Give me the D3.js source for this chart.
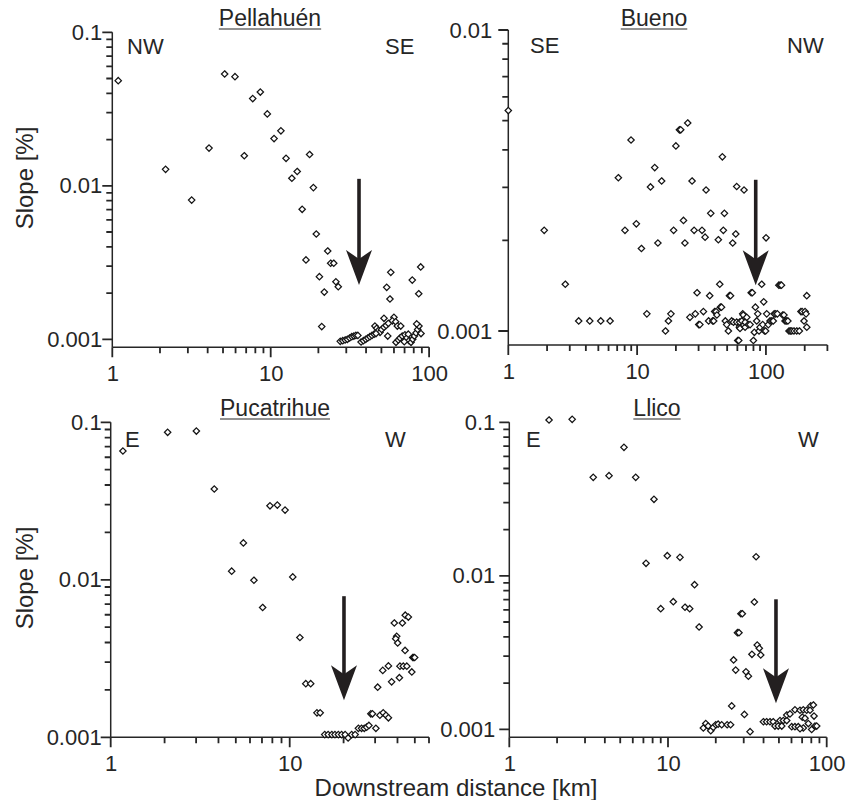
<!DOCTYPE html>
<html lang="en">
<head>
<meta charset="UTF-8">
<script src="https://cdn.jsdelivr.net/npm/d3@7"></script>
<title>Slope vs downstream distance</title>
<style>
  body { margin: 0; background: #fff; }
  svg { display: block; font-family: "Liberation Sans", Arial, sans-serif; }
</style>
</head>
<body>
<svg id="chart" width="846" height="800"></svg>
<script>
// ---- data (distance in km, slope in %) ----
const pellahuenDist = [1.09, 2.17, 3.17, 4.08, 5.12, 5.95, 6.81, 7.70, 8.60, 9.52, 10.5, 11.6, 12.5, 13.6, 14.7, 15.8, 16.7, 17.6, 18.6, 19.4,
  20.3, 21.0, 21.8, 22.9, 23.9, 25.0, 25.8, 26.7,
  27.5, 28.5, 29.5, 30.5, 31.5, 32.5, 33.5, 34.5, 35.5,
  37.2, 38.5, 39.8, 41.0, 42.3, 43.6, 45.0,
  45.5, 46.7, 47.8, 49.0, 46.2, 50.2, 51.9, 53.5, 55.3, 51.9, 60.0, 58.6, 61.5, 63.0, 66.2, 54.8,
  61.8, 63.9, 65.5, 67.7, 70.4, 72.2, 74.7, 76.9, 78.8, 80.7, 82.7, 84.7, 86.3, 83.5, 88.9, 69.7, 73.9,
  54.0, 57.3, 56.6, 78.3, 88.5, 86.0];
const pellahuenSlope = [0.0484, 0.0128, 0.00807, 0.0176, 0.0535, 0.0514, 0.0157, 0.0370, 0.0408, 0.0294, 0.0203, 0.0228, 0.0151, 0.0112, 0.0124, 0.00703, 0.00329, 0.0160, 0.00973, 0.00485,
  0.00256, 0.00121, 0.00203, 0.00376, 0.00313, 0.00313, 0.00237, 0.00220,
  0.00097, 0.00098, 0.00099, 0.00100, 0.00102, 0.00104, 0.00105, 0.00106, 0.00106,
  0.00096, 0.00098, 0.00100, 0.00102, 0.00104, 0.00106, 0.00108,
  0.00122, 0.00118, 0.00114, 0.00111, 0.00109, 0.00116, 0.00120, 0.00123, 0.00127, 0.00137, 0.00139, 0.00132, 0.00130, 0.00122, 0.00122, 0.00105,
  0.000956, 0.00099, 0.00102, 0.00105, 0.00107, 0.00102, 0.00098, 0.000956, 0.00100, 0.00105, 0.00110, 0.00116, 0.00122, 0.00126, 0.00109, 0.000965, 0.00108,
  0.00218, 0.00273, 0.00183, 0.00243, 0.00296, 0.00198];

const buenoDist = [1.0, 1.90, 2.77, 3.52, 4.29, 5.22, 6.17, 7.15, 8.05, 8.97, 9.86, 10.8, 11.9, 12.7, 13.7, 14.5, 15.5, 16.6, 17.5, 18.3,
  19.2, 20.0, 21.3, 21.8, 22.9, 23.5, 24.7, 25.7, 26.7, 27.7, 28.3, 29.2, 30.1, 30.7, 31.9, 32.7, 33.7, 34.3, 35.9, 36.6,
  37.3, 38.6, 39.3, 40.0, 41.0, 41.6, 42.7, 43.8, 44.3, 45.2, 45.9, 46.7, 47.6, 48.4, 49.6, 51.1, 52.1, 53.1, 54.2, 55.2,
  56.0, 58.3, 59.3, 59.3, 60.4, 61.5, 62.2, 62.5, 62.9, 64.9, 66.1, 66.7, 67.6, 68.9, 69.0, 71.0, 73.1, 75.3, 76.8, 78.4,
  79.9, 81.3, 82.8, 84.8, 86.4, 88.4, 90.0, 92.7, 94.4, 96.1, 97.5, 99.4, 100.2, 101.4, 104.4, 107.6, 111, 114, 116, 119,
  122.7, 126, 129, 132, 135, 138, 140.7, 144, 148, 151, 155, 158.6, 165, 173.4, 181.7, 187, 191, 197.6, 201.2, 207.5, 207.5, 204.8];
const buenoSlope = [0.00540, 0.00216, 0.00143, 0.00108, 0.00108, 0.00108, 0.00108, 0.00323, 0.00216, 0.00431, 0.00227, 0.00188, 0.00114, 0.00301, 0.00349, 0.00196, 0.00315, 0.00100, 0.00108, 0.00114,
  0.00216, 0.00412, 0.00466, 0.00466, 0.00233, 0.00196, 0.00491, 0.00111, 0.00315, 0.00216, 0.00114, 0.00134, 0.00105, 0.00105, 0.00216, 0.00116, 0.00205, 0.00294, 0.00108, 0.00131,
  0.00246, 0.00108, 0.00108, 0.00116, 0.00116, 0.00113, 0.00201, 0.00143, 0.00120, 0.00120, 0.00379, 0.00216, 0.00246, 0.00108, 0.00105, 0.00100, 0.00131, 0.00131, 0.00108, 0.00196,
  0.00107, 0.00210, 0.00302, 0.00107, 0.00093, 0.00093, 0.00103, 0.00107, 0.00102, 0.00108, 0.00114, 0.00113, 0.00294, 0.00103, 0.00107, 0.00111, 0.00105, 0.00105, 0.00134, 0.00134,
  0.00093, 0.00099, 0.00120, 0.00108, 0.00114, 0.00100, 0.00103, 0.00143, 0.00105, 0.00125, 0.00100, 0.00100, 0.00204, 0.00114, 0.00105, 0.00108, 0.00108, 0.00108, 0.00114, 0.00114,
  0.00114, 0.00142, 0.00142, 0.00142, 0.00113, 0.00113, 0.00108, 0.00108, 0.00108, 0.00100, 0.00100, 0.00100, 0.00100, 0.00100, 0.00100, 0.00116, 0.00116, 0.00108, 0.00116, 0.00131, 0.00103, 0.00114];

const pucatrihueDist = [1.17, 2.08, 3.01, 3.79, 4.74, 5.51, 6.31, 7.06, 7.76, 8.53, 9.42, 10.4, 11.4, 12.3, 13.1, 14.2, 14.8,
  15.7, 16.4, 17.2, 17.9, 18.7, 19.5, 20.4, 21.2, 22.2, 23.2, 24.2, 25.2, 26.1, 26.9, 27.7, 30.3,
  28.4, 29.0, 31.9, 33.3, 34.5, 35.6, 31.0, 33.1, 35.6, 37.1, 38.4, 39.6, 39.1, 40.1, 42.6, 44.2, 46.0, 44.1,
  41.3, 43.1, 45.1, 41.0, 48.1, 48.7, 49.3, 49.9];
const pucatrihueSlope = [0.0657, 0.0864, 0.0880, 0.0377, 0.01135, 0.01715, 0.00994, 0.00667, 0.0295, 0.0298, 0.0277, 0.01043, 0.00430, 0.00219, 0.00219, 0.00143, 0.00143,
  0.00104, 0.00104, 0.00104, 0.00104, 0.00104, 0.00104, 0.00104, 0.00099, 0.00104, 0.00104, 0.00114, 0.00114, 0.00114, 0.00116, 0.00119, 0.00114,
  0.00141, 0.00141, 0.00138, 0.00143, 0.00138, 0.00133, 0.00208, 0.00266, 0.00284, 0.00225, 0.00532, 0.00438, 0.00423, 0.00397, 0.00532, 0.00596, 0.00580, 0.00356,
  0.00283, 0.00283, 0.00283, 0.00239, 0.00260, 0.00321, 0.00321, 0.00321];

const llicoDist = [1.78, 2.49, 3.38, 4.25, 5.28, 6.26, 8.16, 7.27, 9.90, 11.9, 9.0, 10.8, 12.8, 13.7, 14.7, 15.7,
  35.9, 35.0, 28.8, 29.4, 27.4, 28.0, 25.9, 26.7, 31.0, 32.1, 33.8, 36.5, 37.6, 38.4, 25.2, 30.3, 32.9,
  16.7, 17.3, 17.9, 18.6, 19.3, 20.0, 20.7, 21.8, 23.6, 24.8,
  39.9, 41.8, 43.9, 46.0, 47.2, 49.5, 52.1, 50.8, 53.3, 56.0, 56.0, 58.7, 60.2, 63.1, 66.2, 63.1, 67.9, 71.2, 74.8,
  70.2, 73.0, 71.2, 67.9, 76.6, 79.3, 82.4, 78.5, 83.2, 80.4, 84.4, 86.5];
const llicoSlope = [0.1035, 0.1045, 0.0438, 0.0449, 0.0687, 0.0438, 0.0315, 0.01206, 0.01352, 0.01319, 0.00611, 0.00678, 0.00624, 0.00611, 0.00875, 0.00464,
  0.0133, 0.00675, 0.00566, 0.00566, 0.00426, 0.00426, 0.00283, 0.00243, 0.00237, 0.00222, 0.00308, 0.00354, 0.00337, 0.00305, 0.00142, 0.00125, 0.000965,
  0.00102, 0.00109, 0.00105, 0.00098, 0.00103, 0.00107, 0.00108, 0.00107, 0.00107, 0.00107,
  0.00112, 0.00112, 0.00112, 0.00112, 0.00105, 0.00105, 0.00105, 0.00114, 0.00114, 0.00114, 0.00124, 0.00126, 0.00104, 0.00104, 0.00104, 0.00134, 0.00133, 0.00134, 0.00133,
  0.00120, 0.00118, 0.00102, 0.00101, 0.00109, 0.00142, 0.00144, 0.00133, 0.00122, 0.000997, 0.00105, 0.00105];

const riverNames = ["Pellahuén", "Bueno", "Pucatrihue", "Llico"];
const directionLabels = [["NW", "SE"], ["SE", "NW"], ["E", "W"], ["E", "W"]];
const distMax = [100, 300, 60, 100];
const slopeMax = [0.1, 0.01, 0.1, 0.1];
const slopeMin = [0.001, 0.001, 0.001, 0.001];
// arrows: distance, slope at top of shaft, slope at tip
const arrowDist = [36.1, 83.3, 20.1, 47.9];
const arrowTop = [0.0111, 0.00318, 0.00787, 0.00703];
const arrowTip = [0.00226, 0.00142, 0.00172, 0.00148];

const seriesDist = [pellahuenDist, buenoDist, pucatrihueDist, llicoDist];
const seriesSlope = [pellahuenSlope, buenoSlope, pucatrihueSlope, llicoSlope];

// ---- layout of the four panels (pixels) ----
const layout = [
  { x0: 112.3, x1: 429.1, yTop: 32.3, yLow: 339.3, axisY: 347.3, pad: 10, titleX: 270, titleY: 26, dirX: [127, 385], dirY: 54 },
  { x0: 508.3, x1: 827.4, yTop: 30, yLow: 331, axisY: 345, pad: 16, titleX: 654, titleY: 26, dirX: [530, 787], dirY: 53 },
  { x0: 110.7, x1: 429, yTop: 422.3, yLow: 737.3, axisY: 737.3, pad: 9, titleX: 275, titleY: 416, dirX: [125, 385], dirY: 447 },
  { x0: 509.3, x1: 826.7, yTop: 422.3, yLow: 729.3, axisY: 737.3, pad: 14, titleX: 657, titleY: 416, dirX: [526, 798], dirY: 447 }
];

const ink = "#262626";
const svg = d3.select("#chart");
svg.append("rect").attr("width", 846).attr("height", 800).attr("fill", "#fff");

const isPow10 = d => Math.abs(Math.log10(d) - Math.round(Math.log10(d))) < 1e-6;

layout.forEach((L, i) => {
  const g = svg.append("g");
  const x = d3.scaleLog().domain([1, distMax[i]]).range([L.x0, L.x1]);
  const y = d3.scaleLog().domain([slopeMin[i], slopeMax[i]]).range([L.yLow, L.yTop]);

  const xt = x.ticks();
  const yt = y.ticks();
  const fmt = d3.format("~g");

  // axis lines
  g.append("line").attr("x1", L.x0).attr("x2", L.x0).attr("y1", L.yTop).attr("y2", L.axisY)
    .attr("stroke", ink).attr("stroke-width", 1.5);
  g.append("line").attr("x1", L.x0).attr("x2", L.x1).attr("y1", L.axisY).attr("y2", L.axisY)
    .attr("stroke", ink).attr("stroke-width", 1.5);

  // tick marks, one path per axis (decades longer)
  const xPath = xt.map(d => `M${x(d)},${L.axisY}v${isPow10(d) ? 10 : 6}`).join("");
  const yPath = yt.map(d => `M${L.x0},${y(d)}h${isPow10(d) ? -10 : -6}`).join("");
  g.append("path").attr("d", xPath).attr("stroke", ink).attr("stroke-width", 1.8).attr("fill", "none");
  g.append("path").attr("d", yPath).attr("stroke", ink).attr("stroke-width", 1.8).attr("fill", "none");

  // labels for the decades
  g.append("g").attr("transform", `translate(0,${L.axisY})`)
    .call(d3.axisBottom(x).tickValues(xt.filter(isPow10)).tickSize(0).tickPadding(18).tickFormat(fmt));
  g.append("g").attr("transform", `translate(${L.x0},0)`)
    .call(d3.axisLeft(y).tickValues(yt.filter(isPow10)).tickSize(0).tickPadding(L.pad).tickFormat(fmt));

  g.selectAll(".domain").remove();
  g.selectAll(".tick line").remove();
  g.selectAll(".tick text").attr("fill", ink).style("font-size", "22px")
    .style("font-family", "'Liberation Sans', Arial, sans-serif");

  // points
  g.append("g").selectAll("path")
    .data(d3.zip(seriesDist[i], seriesSlope[i]))
    .join("path")
    .attr("d", "M0,-3.2L3.2,0L0,3.2L-3.2,0Z")
    .attr("transform", d => `translate(${x(d[0])},${y(d[1])})`)
    .attr("fill", "#fff")
    .attr("stroke", "#141414")
    .attr("stroke-width", 1.25);

  // arrow
  const ax = x(arrowDist[i]);
  const yTip = y(arrowTip[i]);
  g.append("line").attr("x1", ax).attr("x2", ax).attr("y1", y(arrowTop[i])).attr("y2", yTip - 22)
    .attr("stroke", "#231f20").attr("stroke-width", 3.6);
  g.append("path")
    .attr("d", `M${ax},${yTip} L${ax - 13},${yTip - 35} L${ax},${yTip - 26} L${ax + 13},${yTip - 35} Z`)
    .attr("fill", "#231f20");

  // title with underline
  const title = g.append("text").attr("x", L.titleX).attr("y", L.titleY)
    .attr("text-anchor", "middle").attr("fill", ink).style("font-size", "23px")
    .text(riverNames[i]);
  const tw = title.node().getComputedTextLength();
  g.append("line").attr("x1", L.titleX - tw / 2).attr("x2", L.titleX + tw / 2)
    .attr("y1", L.titleY + 3).attr("y2", L.titleY + 3).attr("stroke", ink).attr("stroke-width", 1.2);

  // direction labels
  directionLabels[i].forEach((t, k) => {
    g.append("text").attr("x", L.dirX[k]).attr("y", L.dirY).attr("fill", ink)
      .style("font-size", "22px").text(t);
  });
});

// axis titles
[178, 578].forEach(cy => {
  svg.append("text").attr("transform", `translate(33,${cy}) rotate(-90)`)
    .attr("text-anchor", "middle").attr("fill", ink).style("font-size", "24px").text("Slope [%]");
});
svg.append("text").attr("x", 456).attr("y", 796).attr("text-anchor", "middle")
  .attr("fill", ink).style("font-size", "24px").text("Downstream distance [km]");
</script>
</body>
</html>
